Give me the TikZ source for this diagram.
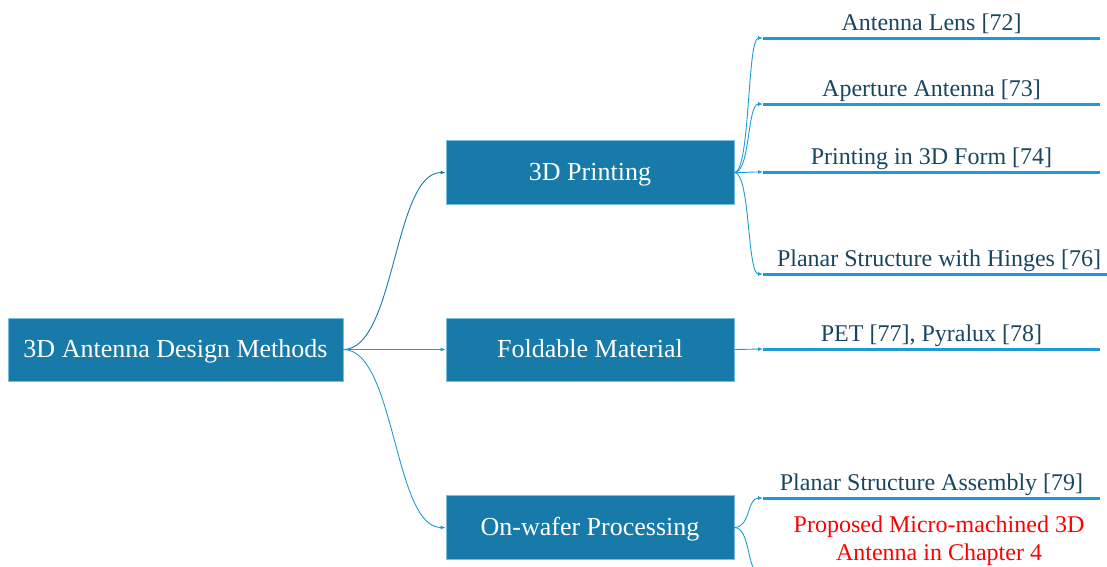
\documentclass[tikz,border=0pt]{standalone}
\usepackage{fontspec}
\setmainfont{Liberation Serif}
\usetikzlibrary{arrows.meta,calc}

\definecolor{boxfill}{RGB}{23,122,168}
\definecolor{boxedge}{RGB}{120,190,230}
\definecolor{linkdark}{RGB}{23,122,168}
\definecolor{linklight}{RGB}{30,155,215}
\definecolor{leaftext}{RGB}{25,70,95}
\definecolor{notered}{RGB}{255,0,0}

\tikzset{
  box/.style={draw=boxedge, line width=0.8pt, fill=boxfill, text=white,
    font=\fontsize{26}{30}\selectfont, minimum width=288pt, minimum height=64pt,
    inner sep=0pt, text height=18pt, text depth=2pt},
  link/.style={line width=0.9pt, -{Latex[length=5pt,width=4pt]}},
  leafline/.style={draw=linklight, line width=3pt},
  leaflabel/.style={text=leaftext, font=\fontsize{24}{28}\selectfont,
    anchor=base, inner sep=0pt},
  redlabel/.style={leaflabel, text=notered}
}

\begin{document}
\begin{tikzpicture}[x=1pt,y=-1pt]
\useasboundingbox (0,0) rectangle (1107,566);
\clip (0,0) rectangle (1107,566);

% main boxes
\node[box, minimum width=335pt, minimum height=63pt] (root) at (175.5,349.5) {3D Antenna Design Methods};
\node[box] (print) at (590,172.5) {3D Printing};
\node[box, minimum height=63pt] (fold) at (590,349.5) {Foldable Material};
\node[box] (wafer) at (590,527.5) {On-wafer Processing};

% root to the three methods
\draw[link, draw=linkdark] (root.east) .. controls +(52,0) and +(-52,0) .. (print.west);
\draw[link, draw=linklight] (root.east) -- (fold.west);
\draw[link, draw=linklight] (root.east) .. controls +(52,0) and +(-52,0) .. (wafer.west);

% leaf underlines
\coordinate (a1) at (763,38);   \coordinate (a1e) at (1100,38);
\coordinate (a2) at (763,104);  \coordinate (a2e) at (1100,104);
\coordinate (a3) at (763,172);  \coordinate (a3e) at (1100,172);
\coordinate (a4) at (763,274);  \coordinate (a4e) at (1107,274);
\coordinate (b1) at (763,349);  \coordinate (b1e) at (1100,349);
\coordinate (c1) at (763,498);  \coordinate (c1e) at (1100,498);
\coordinate (c2) at (763,572);  \coordinate (c2e) at (1107,572);

\foreach \s/\e in {a1/a1e,a2/a2e,a3/a3e,a4/a4e,b1/b1e,c1/c1e,c2/c2e}
  \draw[leafline] (\s) -- (\e);

% leaf labels
\node[leaflabel] (ta1) at (931.5,30) {Antenna Lens [72]};
\node[leaflabel] (ta2) at (931.5,96) {Aperture Antenna [73]};
\node[leaflabel] (ta3) at (931.5,164) {Printing in 3D Form [74]};
\node[leaflabel] (ta4) at (939,266) {Planar Structure with Hinges [76]};
\node[leaflabel] (tb1) at (931.5,341) {PET [77], Pyralux [78]};
\node[leaflabel] (tc1) at (931.5,490) {Planar Structure Assembly [79]};
\node[redlabel] (tc2a) at (939,532) {Proposed Micro-machined 3D};
\node[redlabel] (tc2b) at (939,560) {Antenna in Chapter 4};

% method to leaf connectors
\foreach \t in {a1,a2,a3,a4}
  \draw[link, draw=linklight] (print.east) .. controls +(16,0) and +(-16,0) .. (\t);
\draw[link, draw=linklight] (fold.east) -- (b1);
\foreach \t in {c1,c2}
  \draw[link, draw=linklight] (wafer.east) .. controls +(16,0) and +(-16,0) .. (\t);
\end{tikzpicture}
\end{document}
